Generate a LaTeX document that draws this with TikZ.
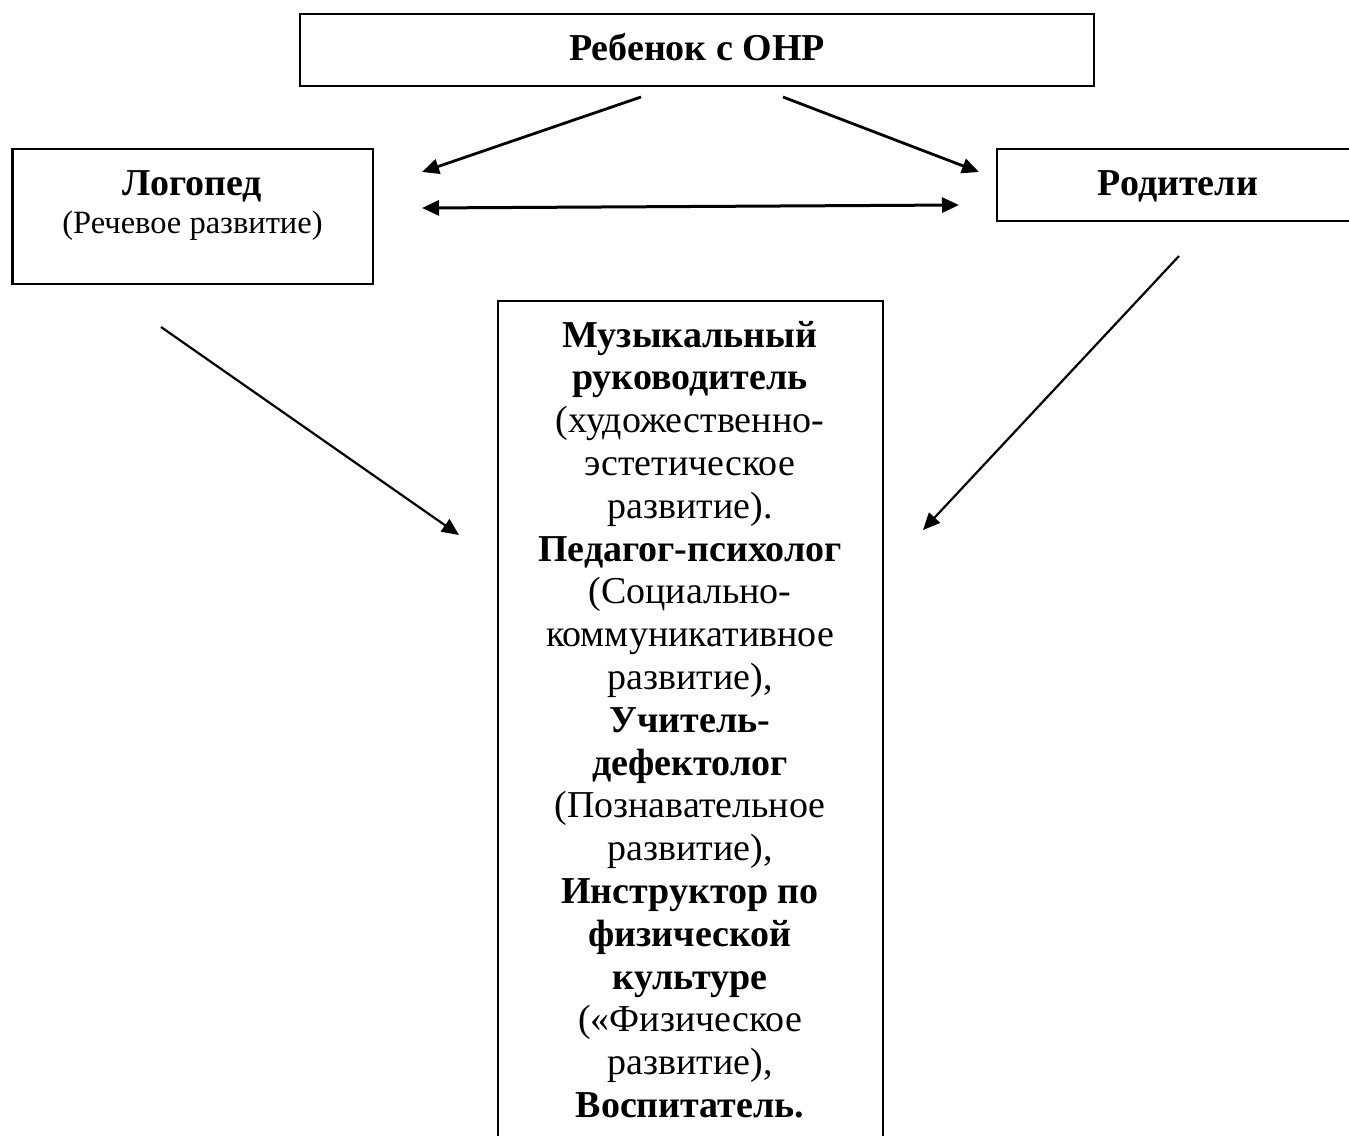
\documentclass[tikz,border=0pt]{standalone}
\usepackage{fontspec}
\setmainfont{Liberation Serif}
\usetikzlibrary{arrows.meta}
\begin{document}
\begin{tikzpicture}[x=1pt,y=-1pt,
  boxstyle/.style={draw, line width=2.2pt, inner sep=0pt},
  bigfont/.style={font=\fontsize{38}{42.8}\selectfont},
  smallfont/.style={font=\fontsize{32.5}{37}\selectfont},
  thickarrow/.style={line width=2.8pt, -{Triangle[length=17pt,width=15pt]}},
  thinarrow/.style={line width=2.2pt, -{Triangle[length=17pt,width=15pt]}},
  dblarrow/.style={line width=3pt, {Triangle[length=17pt,width=15pt]}-{Triangle[length=17pt,width=15pt]}}
]
\useasboundingbox (0,0) rectangle (1349,1135);
\fill[white] (0,0) rectangle (1349,1135);

% boxes
\node[boxstyle, minimum width=794pt, minimum height=72pt, bigfont,
      text height=28pt, text depth=8pt] (child) at (697,50) {\textbf{Ребенок с ОНР}};
\node[boxstyle, minimum width=360.5pt, minimum height=135pt] (logo) at (192.75,216.5) {};
\node[bigfont, anchor=base, inner sep=0pt] (logotitle) at (192.5,195) {\textbf{Логопед}};
\node[smallfont, anchor=base, inner sep=0pt] (logosub) at (192.5,233) {(Речевое развитие)};
\node[boxstyle, minimum width=362pt, minimum height=72pt, bigfont,
      text height=26pt, text depth=6pt] (parents) at (1178,185) {\textbf{Родители}};
\node[boxstyle, minimum width=385pt, minimum height=850pt] (staff) at (690.5,726) {};
\node[bigfont, anchor=north, inner sep=0pt, align=center] (stafftext) at (690,317) {%
\strut\textbf{Музыкальный}\\
\textbf{руководитель}\\
(художественно-\\
эстетическое\\
развитие).\\
\textbf{Педагог-психолог}\\
(Социально-\\
коммуникативное\\
развитие),\\
\textbf{Учитель-}\\
\textbf{дефектолог}\\
(Познавательное\\
развитие),\\
\textbf{Инструктор по}\\
\textbf{физической}\\
\textbf{культуре}\\
(«Физическое\\
развитие),\\
\textbf{Воспитатель.}};

% free connector ends
\coordinate (a1s) at (641,97);
\coordinate (a1e) at (422,172);
\coordinate (a2s) at (783,97);
\coordinate (a2e) at (979,172);
\coordinate (d1) at (422,208);
\coordinate (d2) at (959,205);
\coordinate (a3s) at (161,327);
\coordinate (a3e) at (459,535);
\coordinate (a4s) at (1179,256);
\coordinate (a4e) at (923,530);

\draw[thickarrow] (a1s) -- (a1e);
\draw[thickarrow] (a2s) -- (a2e);
\draw[dblarrow] (d1) -- (d2);
\draw[thinarrow] (a3s) -- (a3e);
\draw[thinarrow] (a4s) -- (a4e);
\end{tikzpicture}
\end{document}
